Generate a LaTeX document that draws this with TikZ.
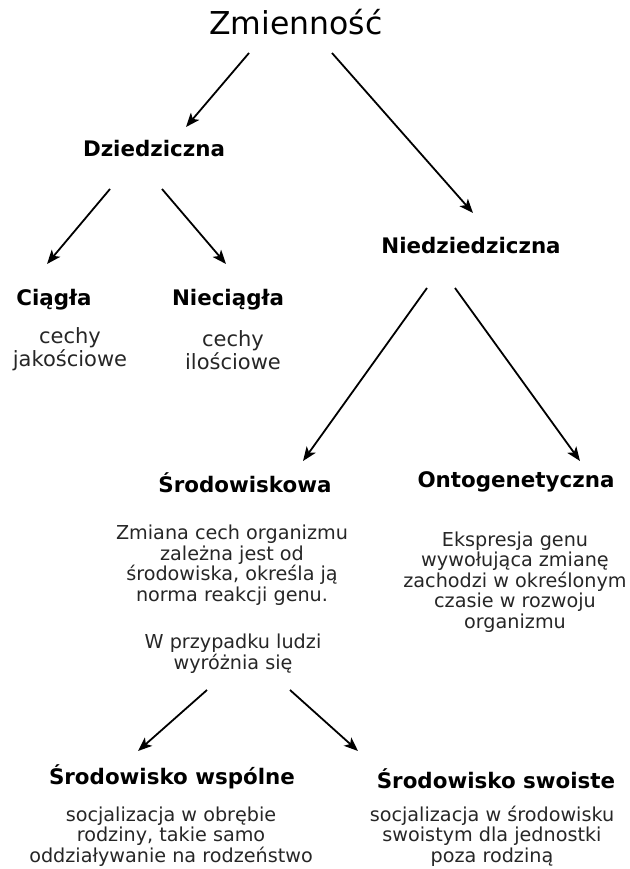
\documentclass[tikz,border=0pt]{standalone}
\usepackage{fontspec}
\setmainfont{DejaVu Sans}
\usetikzlibrary{arrows.meta}

\tikzset{
  head/.style={anchor=base, font=\bfseries\fontsize{21.4}{24}\selectfont},
  desc/.style={anchor=base, align=center, text=black!85, font=\fontsize{19.2}{20.5}\selectfont},
  bigdesc/.style={anchor=base, align=center, text=black!85, font=\fontsize{21}{20.5}\selectfont},
  arr/.style={-{Stealth[length=14pt,width=11pt,inset=3.5pt]}, line width=1.8pt}
}

\begin{document}
\begin{tikzpicture}[x=1pt,y=-1pt]
\useasboundingbox (0,0) rectangle (629,869);
% Top
\node[anchor=base, font=\fontsize{31.5}{36}\selectfont] (zm) at (296,35) {Zmienność};

% Inherited branch (multi-line nodes sit on their last baseline)
\node[head] (dz) at (154,157) {Dziedziczna};
\node[head] (ci) at (54,305) {Ciągła};
\node[head] (nc) at (228,305) {Nieciągła};
\node[bigdesc] (cij) at (70,366) {cechy\\jakościowe};
\node[bigdesc] (nci) at (233,369) {cechy\\ilościowe};

% Non-inherited branch
\node[head] (nd) at (471,253) {Niedziedziczna};
\node[head] (sr) at (245,492) {Środowiskowa};
\node[head] (on) at (516,487) {Ontogenetyczna};
\node[desc] (srd) at (232,601) {Zmiana cech organizmu\\zależna jest od\\środowiska, określa ją\\norma reakcji genu.};
\node[desc] (wl) at (233,669) {W przypadku ludzi\\wyróżnia się};
\node[desc] (ond) at (515,628) {Ekspresja genu\\wywołująca zmianę\\zachodzi w określonym\\czasie w rozwoju\\organizmu};

% Environment types
\node[head] (sw) at (172,784) {Środowisko wspólne};
\node[head] (ss) at (496,788) {Środowisko swoiste};
\node[desc] (swd) at (171,862) {socjalizacja w obrębie\\rodziny, takie samo\\oddziaływanie na rodzeństwo};
\node[desc] (ssd) at (492,862) {socjalizacja w środowisku\\swoistym dla jednostki\\poza rodziną};

% Arrows
\draw[arr] ([shift={(-47,18)}]zm.base) -- ([shift={(32,-30)}]dz.base);
\draw[arr] ([shift={(36,18)}]zm.base) -- ([shift={(2,-40)}]nd.base);
\draw[arr] ([shift={(-44,32)}]dz.base) -- ([shift={(-7,-41)}]ci.base);
\draw[arr] ([shift={(8,32)}]dz.base) -- ([shift={(-2,-41)}]nc.base);
\draw[arr] ([shift={(-44,35)}]nd.base) -- ([shift={(58,-31)}]sr.base);
\draw[arr] ([shift={(-16,35)}]nd.base) -- ([shift={(64,-26)}]on.base);
\draw[arr] ([shift={(-26,21)}]wl.base) -- ([shift={(-34,-33)}]sw.base);
\draw[arr] ([shift={(57,21)}]wl.base) -- ([shift={(-138,-37)}]ss.base);
\end{tikzpicture}
\end{document}
